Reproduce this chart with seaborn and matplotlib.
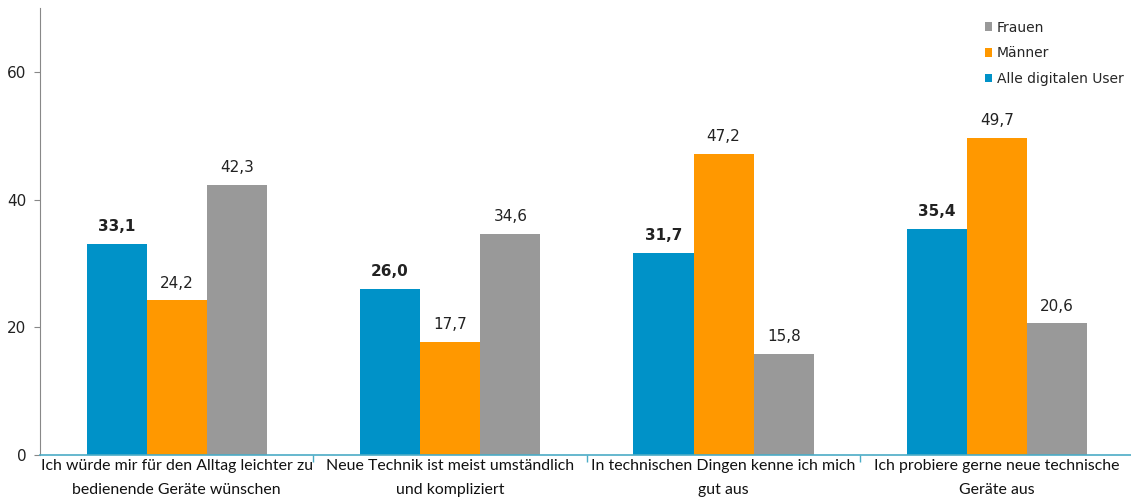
import matplotlib
matplotlib.use("Agg")
import matplotlib.pyplot as plt
import seaborn as sns
import pandas as pd
from matplotlib import font_manager
from matplotlib.patches import Patch

categories = [
    "Ich würde mir für den Alltag leichter zu\nbedienende Geräte wünschen",
    "Neue Technik ist meist umständlich\nund kompliziert",
    "In technischen Dingen kenne ich mich\ngut aus",
    "Ich probiere gerne neue technische\nGeräte aus",
]
series_names = ["Alle digitalen User", "Männer", "Frauen"]
alle = [33.1, 26.0, 31.7, 35.4]
maenner = [24.2, 17.7, 47.2, 49.7]
frauen = [42.3, 34.6, 15.8, 20.6]
yticks = [0, 20, 40, 60]

colors = {"Alle digitalen User": "#0092C8", "Männer": "#FF9800", "Frauen": "#999999"}

rows = []
for name, vals in zip(series_names, [alle, maenner, frauen]):
    for c, v in zip(categories, vals):
        rows.append({"cat": c, "series": name, "value": v})
df = pd.DataFrame(rows)

sns.set_style("white")
avail = {f.name for f in font_manager.fontManager.ttflist}
cat_font = "Lato" if "Lato" in avail else "Liberation Sans"

fig = plt.figure(figsize=(11.31, 5.01), dpi=100)
ax = fig.add_axes([0.0354, 0.092, 0.967, 0.892])
sns.barplot(data=df, x="cat", y="value", hue="series", hue_order=series_names,
            order=categories, palette=colors, width=0.66, ax=ax, legend=False,
            saturation=1, edgecolor="none")

ax.set_ylim(0, 70)
ax.set_xlim(-0.5, 3.5)
ax.set_yticks(yticks)
ax.set_yticklabels([str(t) for t in yticks], fontsize=11, color="#222222", family="DejaVu Sans")
ax.set_xlabel("")
ax.set_ylabel("")
ax.tick_params(axis="y", left=True, length=4, width=0.8, color="#888888", pad=6)
ax.tick_params(axis="x", length=0, pad=3)
ax.set_xticks(range(len(categories)))
ax.set_xticklabels(categories, fontsize=11.4, family=cat_font, color="#111111", linespacing=1.9)
ax.set_xticks([0.5, 1.5, 2.5], minor=True)
ax.tick_params(axis="x", which="minor", bottom=True, length=5, width=1, color="#4BACC6", direction="out")

for s in ["top", "right"]:
    ax.spines[s].set_visible(False)
ax.spines["left"].set_color("#888888")
ax.spines["bottom"].set_color("#4BACC6")
ax.spines["bottom"].set_linewidth(1.2)

for cont, name in zip(ax.containers, series_names):
    labels = [f"{v:.1f}".replace(".", ",") for v in cont.datavalues]
    ax.bar_label(cont, labels=labels, padding=7, fontsize=11, family="DejaVu Sans",
                 color="#222222", fontweight="bold" if name == "Alle digitalen User" else "normal")

handles = [Patch(facecolor=colors[n], edgecolor="none") for n in ["Frauen", "Männer", "Alle digitalen User"]]
ax.legend(handles, ["Frauen", "Männer", "Alle digitalen User"], loc="upper right",
          bbox_to_anchor=(1.002, 1.0), frameon=False, handlelength=0.55, handleheight=0.55,
          handletextpad=0.3, labelspacing=0.85, prop={"family": "DejaVu Sans", "size": 10})

fig.savefig("out.png", dpi=100)
